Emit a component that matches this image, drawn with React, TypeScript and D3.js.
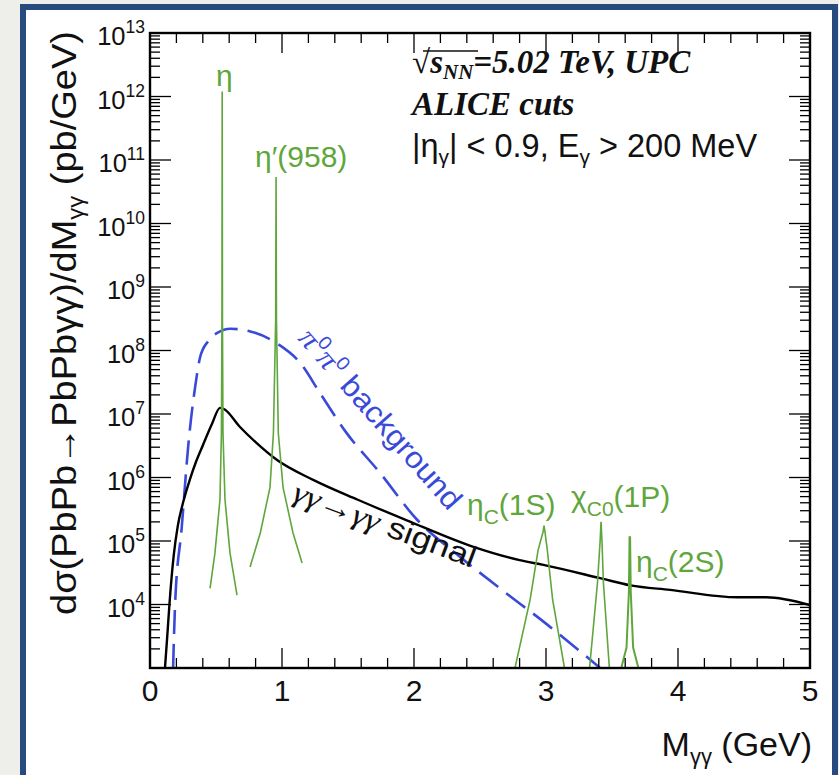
import * as d3 from "d3";

// dσ/dM (pb/GeV) vs M_γγ (GeV)
const signal: [number, number][] = [
  [0.11, 8e2], [0.13, 3e3], [0.15, 1.2e4], [0.18, 6e4], [0.21, 1.7e5],
  [0.25, 4e5], [0.30, 9e5], [0.35, 1.8e6], [0.40, 3.2e6],
  [0.47, 7.0e6], [0.53, 1.25e7], [0.56, 1.2e7], [0.68, 6.3e6],
  [0.80, 3.6e6], [0.96, 1.9e6], [1.24, 9.1e5], [1.57, 4.5e5], [1.95, 2.1e5],
  [2.45, 8.1e4], [2.80, 5.0e4], [2.98, 4.2e4], [3.41, 2.6e4], [3.64, 2.0e4],
  [3.94, 1.7e4], [4.45, 1.3e4], [4.67, 1.3e4], [5.0, 9.8e3],
];

const background: [number, number][] = [
  [0.175, 1e3], [0.19, 1e4], [0.24, 1.6e5], [0.29, 3.2e6], [0.34, 2.5e7],
  [0.38, 7.9e7], [0.44, 1.4e8], [0.51, 1.9e8], [0.61, 2.2e8], [0.76, 2.0e8],
  [0.96, 1.3e8], [1.14, 6.3e7], [1.29, 2.1e7], [1.49, 5.0e6], [1.74, 1.2e6],
  [2.02, 2.2e5], [2.35, 5.6e4], [2.65, 1.8e4], [3.0, 5.0e3], [3.41, 1.0e3],
];

const peakEta: [number, number][] = [
  [0.455, 1.8e4], [0.492, 6.5e4], [0.53, 4.5e5], [0.541, 5e6], [0.545, 3e8],
  [0.547, 1.2e12], [0.549, 3e8], [0.553, 5e6], [0.568, 4.5e5], [0.606, 6.5e4],
  [0.659, 1.4e4],
];

const peakEtaPrime: [number, number][] = [
  [0.758, 3.9e4], [0.836, 1.35e5], [0.909, 7e5], [0.935, 5e6], [0.952, 3e8],
  [0.955, 5.4e10], [0.958, 3e8], [0.972, 5e6], [1.008, 7e5], [1.083, 1.35e5],
  [1.152, 4.5e4],
];

const peakEtaC1S: [number, number][] = [
  [2.765, 1e3], [2.88, 1.2e4], [2.94, 7.2e4], [2.978, 1.4e5], [2.985, 1.75e5],
  [2.992, 1.4e5], [3.01, 7.2e4], [3.05, 1.2e4], [3.14, 1e3],
];

const peakChiC0: [number, number][] = [
  [3.33, 1e3], [3.39, 2.2e4], [3.41, 1.0e5], [3.417, 2.0e5], [3.424, 1.0e5],
  [3.435, 2.2e4], [3.48, 1e3],
];

const peakEtaC2S: [number, number][] = [
  [3.57, 1e3], [3.61, 2.1e3], [3.628, 1.6e4], [3.633, 1.15e5], [3.637, 1.15e5],
  [3.642, 1.6e4], [3.66, 2.1e3], [3.70, 1e3],
];

const xMajor = [0, 1, 2, 3, 4, 5];
const yExponents = [4, 5, 6, 7, 8, 9, 10, 11, 12, 13];

const SANS = "'Liberation Sans', Arial, Helvetica, sans-serif";
const SERIF = "'Liberation Serif', 'Times New Roman', serif";
const GREEN = "#5fa63c";
const BLUE = "#3a4ad8";

export default function App() {
  const width = 839;
  const height = 775;
  const margin = { top: 33, right: 29, bottom: 107, left: 150 };
  const x0 = margin.left, x1 = width - margin.right;
  const y0 = height - margin.bottom, y1 = margin.top;

  const x = d3.scaleLinear().domain([0, 5]).range([x0, x1]);
  const y = d3.scaleLog().domain([1e3, 1e13]).range([y0, y1]);

  const smooth = d3.line<[number, number]>()
    .x(d => x(d[0]))
    .y(d => y(d[1]))
    .curve(d3.curveMonotoneX);
  const line = d3.line<[number, number]>()
    .x(d => x(d[0]))
    .y(d => y(d[1]));

  const xMinor = d3.range(0, 5.001, 0.2).filter(v => Math.abs(v - Math.round(v)) > 1e-6);
  const yMajor = d3.range(3, 14).map(e => Math.pow(10, e));
  const yMinor: number[] = [];
  for (let e = 3; e < 13; e++) for (let m = 2; m <= 9; m++) yMinor.push(m * Math.pow(10, e));

  const peaks = [peakEta, peakEtaPrime, peakEtaC1S, peakChiC0, peakEtaC2S];

  return (
    <svg width={width} height={height}
      style={{ position: "absolute", left: 0, top: 0, background: "#eeeeea" }}>
      <defs>
        <clipPath id="plot">
          <rect x={x0} y={y1} width={x1 - x0} height={y0 - y1} />
        </clipPath>
      </defs>
      {/* slide frame */}
      <rect x={23} y={7} width={812} height={800} fill="#fff" stroke="#274a7f" strokeWidth={6} />

      {/* curves */}
      <g clipPath="url(#plot)" fill="none">
        <path d={smooth(background) || ""} stroke={BLUE} strokeWidth={2.6} strokeDasharray="24 10" />
        <path d={smooth(signal) || ""} stroke="#000" strokeWidth={2.4} />
        {peaks.map((p, i) => (
          <path key={i} d={line(p) || ""} stroke={GREEN} strokeWidth={i === 4 ? 2 : 1.6} />
        ))}
      </g>

      {/* ticks */}
      <g stroke="#000" strokeWidth={1.3}>
        {xMajor.map(v => (
          <g key={"xM" + v}>
            <line x1={x(v)} x2={x(v)} y1={y0} y2={y0 - 20} />
            <line x1={x(v)} x2={x(v)} y1={y1} y2={y1 + 20} />
          </g>
        ))}
        {xMinor.map(v => (
          <g key={"xm" + v}>
            <line x1={x(v)} x2={x(v)} y1={y0} y2={y0 - 10} />
            <line x1={x(v)} x2={x(v)} y1={y1} y2={y1 + 10} />
          </g>
        ))}
        {yMajor.map(v => (
          <g key={"yM" + v}>
            <line x1={x0} x2={x0 + 21} y1={y(v)} y2={y(v)} />
            <line x1={x1} x2={x1 - 21} y1={y(v)} y2={y(v)} />
          </g>
        ))}
        {yMinor.map(v => (
          <g key={"ym" + v}>
            <line x1={x0} x2={x0 + 10} y1={y(v)} y2={y(v)} />
            <line x1={x1} x2={x1 - 10} y1={y(v)} y2={y(v)} />
          </g>
        ))}
      </g>
      <rect x={x0} y={y1} width={x1 - x0} height={y0 - y1} fill="none" stroke="#000" strokeWidth={2.4} />

      {/* tick labels */}
      <g fontFamily={SANS} fill="#111">
        {xMajor.map(v => (
          <text key={"xl" + v} x={x(v)} y={y0 + 33} fontSize={30} textAnchor="middle">{v}</text>
        ))}
        {yExponents.map(e => (
          <text key={"yl" + e} x={x0 - 5} y={y(Math.pow(10, e)) + 12} fontSize={25.5} textAnchor="end">
            10<tspan fontSize={17.5} dy={-12}>{e}</tspan>
          </text>
        ))}
      </g>

      {/* axis titles */}
      <text x={x1 + 2} y={y0 + 88} fontFamily={SANS} fontSize={34} textAnchor="end" fill="#111">
        M<tspan fontSize={22} dy={8}>γγ</tspan><tspan dy={-8}> (GeV)</tspan>
      </text>
      <text transform={`translate(76,31) rotate(-90)`} fontFamily={SANS} fontSize={35}
        textAnchor="end" fill="#111" textLength={584} lengthAdjust="spacingAndGlyphs">
        dσ(PbPb→PbPbγγ)/dM<tspan fontSize={22} dy={7}>γγ</tspan><tspan dy={-7}> (pb/GeV)</tspan>
      </text>

      {/* annotation */}
      <g fill="#111">
        <text x={412} y={73} fontFamily={SERIF} fontSize={33} fontWeight="bold" fontStyle="italic">
          <tspan fontStyle="normal" fontWeight="normal">√</tspan>s<tspan fontSize={21} dy={6}>NN</tspan>
          <tspan dy={-6}>=5.02 TeV, UPC</tspan>
        </text>
        <line x1={423} x2={478} y1={51} y2={51} stroke="#111" strokeWidth={1.3} />
        <text x={412} y={115} fontFamily={SERIF} fontSize={33} fontWeight="bold" fontStyle="italic">
          ALICE cuts
        </text>
        <text x={412} y={157} fontFamily={SANS} fontSize={32.5}>
          |η<tspan fontSize={21} dy={7}>γ</tspan><tspan dy={-7}>| &lt; 0.9, E</tspan>
          <tspan fontSize={21} dy={7}>γ</tspan><tspan dy={-7}> &gt; 200 MeV</tspan>
        </text>
      </g>

      {/* resonance labels */}
      <g fontFamily={SANS} fill={GREEN} fontSize={30}>
        <text x={216} y={86}>η</text>
        <text x={255} y={167}>η′(958)</text>
        <text x={467} y={515}>η<tspan fontSize={21} dy={9}>C</tspan><tspan dy={-9}>(1S)</tspan></text>
        <text x={571} y={507}>χ<tspan fontSize={21} dy={9}>C0</tspan><tspan dy={-9}>(1P)</tspan></text>
        <text x={636} y={572}>η<tspan fontSize={21} dy={9}>C</tspan><tspan dy={-9}>(2S)</tspan></text>
      </g>

      {/* curve labels */}
      <text transform="translate(297,339) rotate(48.7)" fill={BLUE} fontSize={30} fontFamily={SANS}
        textLength={230} lengthAdjust="spacingAndGlyphs">
        <tspan fontFamily={SERIF} fontStyle="italic">π</tspan><tspan fontSize={19} dy={-12}>0</tspan>
        <tspan dy={12} fontFamily={SERIF} fontStyle="italic">π</tspan><tspan fontSize={19} dy={-12}>0</tspan>
        <tspan dy={12}> background</tspan>
      </text>
      <text transform="translate(291,500) rotate(20.6)" fill="#111" fontSize={30} fontFamily={SANS}
        textLength={193} lengthAdjust="spacingAndGlyphs">
        <tspan fontFamily={SERIF} fontStyle="italic">γγ</tspan>→<tspan fontFamily={SERIF} fontStyle="italic">γγ</tspan> signal
      </text>
    </svg>
  );
}
